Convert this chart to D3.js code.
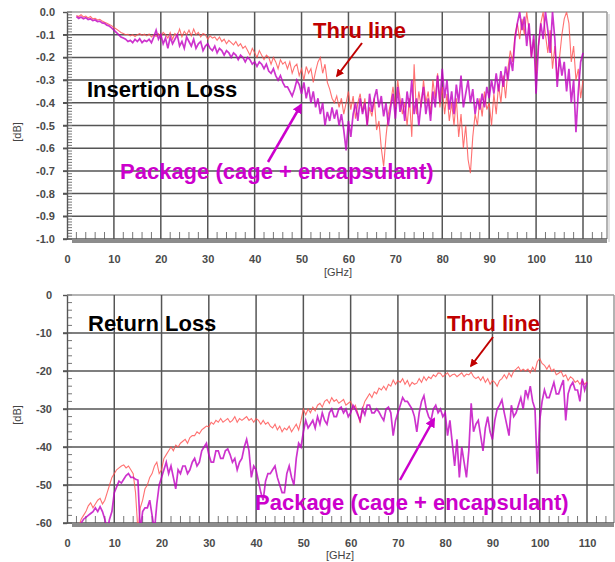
<!DOCTYPE html>
<html>
<head>
<meta charset="utf-8">
<script src="https://cdn.jsdelivr.net/npm/d3@7"></script>
<style>
  body { margin: 0; background: #fff; }
  svg { display: block; font-family: "Liberation Sans", Arial, sans-serif; }
</style>
</head>
<body>
<div id="chart"></div>
<script>
// Frequency sweep: 2 GHz to 110 GHz, 0.5 GHz step
const freqStart = 2;
const freqStep = 0.5;

const xTicks = [0, 10, 20, 30, 40, 50, 60, 70, 80, 90, 100, 110];
const ilTicks = [0, -0.1, -0.2, -0.3, -0.4, -0.5, -0.6, -0.7, -0.8, -0.9, -1.0];
const rlTicks = [0, -10, -20, -30, -40, -50, -60];

// Insertion loss [dB]
const ilThru = [
  -0.015,-0.02,-0.012,-0.022,-0.018,-0.026,-0.02,-0.03,-0.028,-0.035,
  -0.032,-0.04,-0.045,-0.05,-0.055,-0.06,-0.068,-0.075,-0.082,-0.09,
  -0.095,-0.1,-0.098,-0.105,-0.1,-0.108,-0.1,-0.095,-0.103,-0.098,
  -0.105,-0.097,-0.11,-0.1,-0.108,-0.095,-0.11,-0.09,-0.1,-0.115,
  -0.09,-0.12,-0.095,-0.105,-0.075,-0.11,-0.085,-0.1,-0.08,-0.105,
  -0.075,-0.1,-0.09,-0.11,-0.095,-0.1,-0.12,-0.105,-0.115,-0.11,
  -0.125,-0.11,-0.13,-0.12,-0.14,-0.125,-0.135,-0.145,-0.13,-0.15,
  -0.14,-0.16,-0.15,-0.17,-0.19,-0.16,-0.18,-0.2,-0.17,-0.19,
  -0.21,-0.19,-0.2,-0.23,-0.2,-0.22,-0.25,-0.21,-0.23,-0.22,
  -0.25,-0.22,-0.27,-0.24,-0.23,-0.28,-0.25,-0.3,-0.24,-0.27,
  -0.25,-0.31,-0.26,-0.22,-0.2,-0.27,-0.23,-0.31,-0.34,-0.38,
  -0.4,-0.37,-0.42,-0.38,-0.45,-0.4,-0.35,-0.43,-0.37,-0.47,
  -0.4,-0.36,-0.44,-0.38,-0.5,-0.42,-0.46,-0.38,-0.52,-0.48,
  -0.6,-0.68,-0.55,-0.45,-0.4,-0.33,-0.42,-0.3,-0.38,-0.45,
  -0.4,-0.5,-0.38,-0.55,-0.23,-0.45,-0.35,-0.42,-0.3,-0.4,
  -0.35,-0.45,-0.3,-0.38,-0.27,-0.42,-0.33,-0.45,-0.36,-0.48,
  -0.4,-0.5,-0.38,-0.55,-0.45,-0.6,-0.5,-0.65,-0.71,-0.55,
  -0.45,-0.5,-0.38,-0.46,-0.35,-0.43,-0.4,-0.5,-0.36,-0.45,
  -0.32,-0.4,-0.28,-0.38,-0.25,-0.17,-0.22,-0.1,-0.05,-0.12,
  -0.03,-0.1,0,-0.08,-0.2,-0.12,-0.28,-0.15,-0.05,0,
  -0.1,-0.18,-0.08,-0.25,-0.15,-0.3,-0.2,-0.1,-0.03,0,
  -0.05,-0.22,-0.15,-0.3,-0.25,-0.38,-0.3
];
const ilPackage = [
  -0.02,-0.028,-0.022,-0.03,-0.025,-0.033,-0.03,-0.038,-0.035,-0.042,
  -0.04,-0.048,-0.05,-0.058,-0.062,-0.07,-0.08,-0.09,-0.1,-0.11,
  -0.115,-0.12,-0.13,-0.125,-0.135,-0.12,-0.13,-0.118,-0.135,-0.125,
  -0.13,-0.12,-0.135,-0.11,-0.08,-0.12,-0.1,-0.14,-0.115,-0.16,
  -0.11,-0.14,-0.12,-0.1,-0.15,-0.13,-0.16,-0.11,-0.13,-0.15,
  -0.12,-0.16,-0.14,-0.13,-0.17,-0.15,-0.14,-0.16,-0.17,-0.15,
  -0.18,-0.16,-0.17,-0.19,-0.17,-0.18,-0.2,-0.18,-0.19,-0.21,
  -0.19,-0.2,-0.22,-0.2,-0.21,-0.23,-0.22,-0.24,-0.22,-0.23,
  -0.25,-0.23,-0.26,-0.27,-0.25,-0.28,-0.3,-0.28,-0.31,-0.33,
  -0.33,-0.35,-0.37,-0.34,-0.3,-0.32,-0.36,-0.31,-0.38,-0.33,
  -0.4,-0.35,-0.42,-0.38,-0.45,-0.4,-0.5,-0.44,-0.48,-0.42,
  -0.47,-0.43,-0.5,-0.45,-0.52,-0.61,-0.48,-0.55,-0.45,-0.4,
  -0.48,-0.38,-0.45,-0.4,-0.5,-0.36,-0.44,-0.38,-0.34,-0.42,
  -0.37,-0.46,-0.4,-0.5,-0.42,-0.36,-0.47,-0.33,-0.44,-0.38,
  -0.48,-0.35,-0.42,-0.3,-0.45,-0.38,-0.5,-0.4,-0.33,-0.45,
  -0.38,-0.48,-0.35,-0.42,-0.28,-0.4,-0.25,-0.38,-0.3,-0.43,
  -0.35,-0.45,-0.32,-0.4,-0.28,-0.42,-0.36,-0.3,-0.4,-0.34,
  -0.45,-0.38,-0.43,-0.36,-0.42,-0.33,-0.38,-0.3,-0.36,-0.27,
  -0.35,-0.26,-0.33,-0.24,-0.3,-0.2,-0.26,-0.12,-0.05,0,
  -0.08,-0.02,-0.15,-0.05,-0.2,-0.1,-0.36,-0.15,-0.05,-0.12,
  0,-0.08,-0.18,0,-0.12,-0.33,-0.2,-0.28,-0.22,-0.35,
  -0.25,-0.4,-0.3,-0.53,-0.35,-0.22,-0.18
];

// Return loss [dB]
const rlThru = [
  -64,-61,-59,-58,-57,-55.5,-54.7,-56,-55,-54,
  -53.5,-55,-54,-52,-50,-48,-47,-46,-45.5,-45,
  -44.7,-45.5,-45,-46,-47,-52,-62,-56,-54,-51,
  -50,-48,-47,-45,-44,-47,-46,-43,-42,-41,
  -40,-41,-39.5,-40,-39,-38.5,-38,-39,-37.5,-37,
  -37,-36,-36.5,-35.5,-35,-34.5,-34.7,-33.5,-34,-33,
  -33.5,-32.5,-33.5,-33,-32.5,-33.5,-33,-32,-33.5,-32.5,
  -33,-32.5,-32,-33,-32.5,-33.5,-32.5,-33,-34,-33,
  -34,-33.5,-34.5,-35,-34,-35.5,-34.5,-36,-35,-35.5,
  -34.5,-36,-35,-34,-35.5,-33,-30,-31.5,-30,-31,
  -29.5,-30.5,-29,-28.5,-29.5,-28,-27.5,-28.5,-27,-28,
  -27.5,-28.5,-28,-27.5,-29,-28.5,-28,-30,-29,-31,
  -33.7,-30,-28,-27,-26,-27,-25.5,-26,-24.5,-25,
  -24,-25,-23.5,-24,-22.4,-23.5,-22.5,-23,-22,-23.5,
  -22.5,-24,-23,-23.5,-23.2,-22,-23,-21.5,-22.5,-21.5,
  -22,-21,-21.5,-20.5,-20.6,-21.5,-21,-20.5,-21.5,-21,
  -20.8,-21.5,-21,-20.5,-21.5,-20.8,-21,-20.3,-21.5,-22,
  -21.5,-22.5,-21.5,-23,-22,-23.5,-22.5,-23,-24,-22.5,
  -22,-21,-22,-20.5,-21.5,-20,-19.5,-18.9,-20,-19.5,
  -20,-19.5,-20.5,-19,-20,-17.5,-16.7,-18,-18.5,-19.5,
  -18.5,-20,-19.5,-21,-20.6,-20,-21.5,-21,-22.5,-21.5,
  -22,-23,-22.5,-23.5,-22.5,-23.5,-22.8
];
const rlPackage = [
  -65,-63,-60,-59,-58.5,-58,-57.5,-57,-56,-57,
  -55.7,-57,-59,-62,-59,-57,-52,-50.5,-49,-49.5,
  -48.5,-47.5,-47,-48,-48,-48.5,-48.7,-62,-57,-56,
  -56,-54,-58,-62,-55,-50,-48,-46,-44,-47,
  -45,-48,-51,-46,-47,-45,-45,-47,-46,-44,
  -43,-45,-44,-41,-40,-39,-42,-44,-44,-41,
  -41,-43,-43,-41,-40.5,-42,-44,-43,-46,-44,
  -43,-40,-38,-41,-48,-45,-46,-49,-52,-54,
  -49,-47,-47,-46,-45,-48,-50,-52,-52,-47,
  -45,-48,-50,-43,-39,-40,-36,-33,-35,-34,
  -33,-35,-32,-34,-31,-33,-34,-31,-30,-32,
  -32,-30,-29.5,-31,-30,-32,-31,-29,-30,-31.5,
  -33,-30,-31.5,-29,-29,-31,-31,-30,-30.8,-32,
  -33,-30,-29.5,-31,-37,-33,-31,-29,-27,-28,
  -28,-29,-30,-32,-36,-31,-28,-26.5,-30,-32,
  -33,-30,-29,-31,-30,-32,-31,-37,-33,-39,
  -45,-38,-48,-40,-44,-48,-41,-28.5,-36,-34,
  -33,-37,-41,-35,-32,-36,-38,-33,-30,-29,
  -27.6,-31,-34,-37,-29,-32,-31,-29,-27,-30,
  -25,-27,-24,-28,-30,-47,-33,-28,-25,-27,
  -27,-25,-23,-26,-26,-24,-22.4,-33,-26,-24,
  -23,-25,-25,-28,-22,-25,-23
];

const width = 615;
const height = 562;
const thruColor = "#ff4d4d";
const pkgColor = "#c000c0";

const svg = d3.select("#chart")
    .append("svg")
    .attr("width", width)
    .attr("height", height);

const defs = svg.append("defs");

function arrowMarker(id, color) {
    defs.append("marker")
        .attr("id", id)
        .attr("viewBox", "0 0 10 10")
        .attr("refX", 8)
        .attr("refY", 5)
        .attr("markerWidth", 4)
        .attr("markerHeight", 4)
        .attr("orient", "auto")
        .append("path")
        .attr("d", "M0,0L10,5L0,10z")
        .attr("fill", color);
}
arrowMarker("arrow-red", "#c00000");
arrowMarker("arrow-mag", "#cc00cc");

// --- One chart panel ---
function drawPanel(p) {
    const x = d3.scaleLinear().domain([0, 110]).range([p.x0, p.x110]);
    const y = d3.scaleLinear().domain(p.yDomain).range([p.yBottom, p.yTop]);
    const xMax = x.invert(p.frameRight);
    const g = svg.append("g");

    defs.append("clipPath").attr("id", "clip-" + p.id)
        .append("rect")
        .attr("x", p.x0 + 1).attr("y", p.yTop)
        .attr("width", p.frameRight - p.x0 - 1)
        .attr("height", p.yBottom - p.yTop);

    // frame (top / right), light grey
    g.append("line")
        .attr("x1", p.x0).attr("x2", p.frameRight)
        .attr("y1", p.yTop).attr("y2", p.yTop)
        .attr("stroke", "#9a9a9a").attr("stroke-width", 1.5);
    g.append("line")
        .attr("x1", p.frameRight).attr("x2", p.frameRight)
        .attr("y1", p.yTop).attr("y2", p.yBottom)
        .attr("stroke", "#9a9a9a").attr("stroke-width", 1.5);
    g.append("line")
        .attr("x1", p.frameRight + 2).attr("x2", p.frameRight + 2)
        .attr("y1", p.yTop + 2).attr("y2", p.yBottom + 3)
        .attr("stroke", "#d8d8d8").attr("stroke-width", 1.5);

    // grid
    g.append("g").selectAll("line")
        .data(p.yTicks.filter(d => d !== p.yDomain[0] && d !== p.yDomain[1]))
        .join("line")
        .attr("x1", p.x0 - 4).attr("x2", p.frameRight)
        .attr("y1", d => y(d)).attr("y2", d => y(d))
        .attr("stroke", "#555").attr("stroke-width", 1.5);
    g.append("g").selectAll("line")
        .data(xTicks.filter(d => d > 0))
        .join("line")
        .attr("x1", d => x(d)).attr("x2", d => x(d))
        .attr("y1", p.yTop).attr("y2", p.yBottom + 2)
        .attr("stroke", "#555").attr("stroke-width", 1.5);

    // minor ticks
    const yMinor = d3.range(p.yDomain[0], p.yDomain[1] + 1e-9, p.yMinorStep);
    g.append("g").selectAll("line")
        .data(yMinor)
        .join("line")
        .attr("x1", p.x0).attr("x2", p.x0 + 5)
        .attr("y1", d => y(d)).attr("y2", d => y(d))
        .attr("stroke", "#777").attr("stroke-width", 1);
    const xMinor = d3.range(2, xMax, 2).filter(d => d % 10 !== 0);
    g.append("g").selectAll("line")
        .data(xMinor)
        .join("line")
        .attr("x1", d => x(d)).attr("x2", d => x(d))
        .attr("y1", p.yBottom).attr("y2", p.yBottom - 7)
        .attr("stroke", "#777").attr("stroke-width", 1);

    // thick bottom band
    g.append("line")
        .attr("x1", p.x0 - 4).attr("x2", p.frameRight)
        .attr("y1", p.yBottom).attr("y2", p.yBottom)
        .attr("stroke", "#555").attr("stroke-width", 1.5);
    g.append("rect")
        .attr("x", p.x0 + 5).attr("y", p.yBottom)
        .attr("width", p.frameRight - p.x0 - 5).attr("height", 4)
        .attr("fill", "#8c8c8c");

    // axes
    const yAxis = g.append("g")
        .attr("transform", `translate(${p.x0},0)`)
        .call(d3.axisLeft(y).tickValues(p.yTicks).tickFormat(p.yFormat)
            .tickSize(4).tickSizeOuter(0).tickPadding(p.yPad));
    const xAxis = g.append("g")
        .attr("transform", `translate(0,${p.yBottom})`)
        .call(d3.axisBottom(x).tickValues(xTicks).tickSize(0).tickPadding(16));
    [yAxis, xAxis].forEach(a => {
        a.select(".domain").attr("stroke", "#555").attr("stroke-width", 1.4);
        a.selectAll(".tick line").attr("stroke", "#555").attr("stroke-width", 1.4);
        a.selectAll("text")
            .attr("font-family", "'Liberation Sans', Arial, sans-serif")
            .attr("font-size", 11)
            .attr("font-weight", "bold")
            .attr("fill", "#4a4a4a");
    });
    xAxis.select(".domain").remove();

    // axis titles
    g.append("text")
        .attr("transform", `translate(21,${p.dbY}) rotate(-90)`)
        .attr("text-anchor", "middle")
        .attr("font-size", 11)
        .attr("fill", "#444")
        .text("[dB]");
    g.append("text")
        .attr("x", p.ghzX).attr("y", p.ghzY)
        .attr("text-anchor", "middle")
        .attr("font-size", 11)
        .attr("fill", "#444")
        .text("[GHz]");

    // traces
    const line = d3.line()
        .x((d, i) => x(freqStart + i * freqStep))
        .y(d => y(d));
    const traces = g.append("g").attr("clip-path", `url(#clip-${p.id})`);
    traces.append("path")
        .datum(p.thru)
        .attr("fill", "none")
        .attr("stroke", thruColor)
        .attr("stroke-width", 1.1)
        .attr("stroke-opacity", 0.8)
        .attr("d", line);
    traces.append("path")
        .datum(p.pkg)
        .attr("fill", "none")
        .attr("stroke", pkgColor)
        .attr("stroke-width", 1.7)
        .attr("stroke-opacity", 0.8)
        .attr("d", line);

    // annotations
    const ann = g.append("g")
        .attr("font-size", 22)
        .attr("font-weight", "bold");
    ann.append("text")
        .attr("x", p.title[0]).attr("y", p.title[1])
        .attr("fill", "#000")
        .text(p.titleText);
    ann.append("text")
        .attr("x", p.thruLabel[0]).attr("y", p.thruLabel[1])
        .attr("fill", "#c00000")
        .text("Thru line");
    ann.append("text")
        .attr("x", p.pkgLabel[0]).attr("y", p.pkgLabel[1])
        .attr("fill", "#cc00cc")
        .text("Package (cage + encapsulant)");
    ann.append("line")
        .attr("x1", p.thruArrow[0]).attr("y1", p.thruArrow[1])
        .attr("x2", p.thruArrow[2]).attr("y2", p.thruArrow[3])
        .attr("stroke", "#c00000").attr("stroke-width", 2)
        .attr("marker-end", "url(#arrow-red)");
    ann.append("line")
        .attr("x1", p.pkgArrow[0]).attr("y1", p.pkgArrow[1])
        .attr("x2", p.pkgArrow[2]).attr("y2", p.pkgArrow[3])
        .attr("stroke", "#cc00cc").attr("stroke-width", 2.5)
        .attr("marker-end", "url(#arrow-mag)");
}

drawPanel({
    id: "il",
    x0: 67, x110: 583, frameRight: 607,
    yTop: 12, yBottom: 239,
    yDomain: [-1, 0],
    yTicks: ilTicks,
    yFormat: d => d.toFixed(1),
    yMinorStep: 0.0125,
    yPad: 8,
    dbY: 132, ghzX: 338, ghzY: 276,
    thru: ilThru, pkg: ilPackage,
    titleText: "Insertion Loss", title: [87, 97],
    thruLabel: [313, 38], thruArrow: [362, 43, 337, 76],
    pkgLabel: [120, 179], pkgArrow: [268, 162, 301, 105]
});

drawPanel({
    id: "rl",
    x0: 67, x110: 587, frameRight: 614,
    yTop: 295, yBottom: 523,
    yDomain: [-60, 0],
    yTicks: rlTicks,
    yFormat: d => String(d),
    yMinorStep: 2,
    yPad: 11,
    dbY: 415, ghzX: 340, ghzY: 559,
    thru: rlThru, pkg: rlPackage,
    titleText: "Return Loss", title: [88, 331],
    thruLabel: [447, 331], thruArrow: [493, 337, 471, 366],
    pkgLabel: [255, 510], pkgArrow: [400, 480, 434, 419]
});
</script>
</body>
</html>
